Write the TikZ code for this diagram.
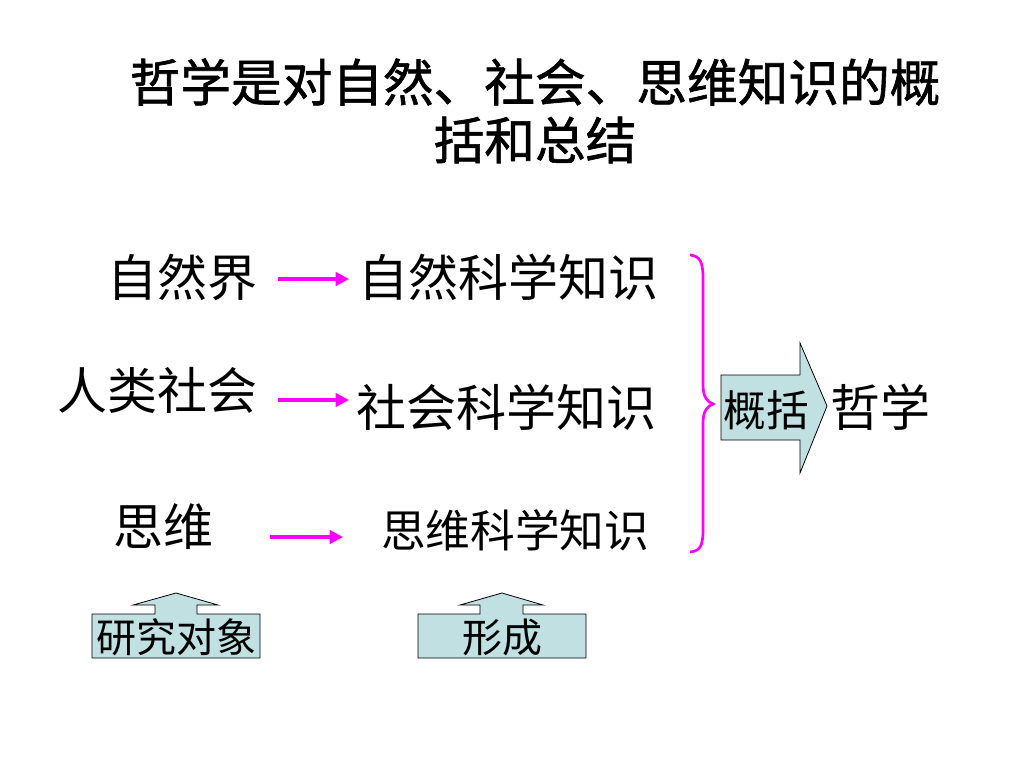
\documentclass[tikz,border=0pt]{standalone}
\usepackage{fontspec}
\setmainfont{Noto Sans CJK SC}
\newfontfamily\ttlfont{Noto Sans CJK SC}[FakeBold=1.2]
\usetikzlibrary{arrows.meta}
\definecolor{pink}{RGB}{255,0,255}
\definecolor{teal}{RGB}{192,224,226}
\tikzset{
  big/.style={inner sep=0pt, font=\fontsize{37.5}{40}\selectfont},
  ttl/.style={inner sep=0pt, font=\ttlfont\fontsize{38}{40}\selectfont},
  mid/.style={inner sep=0pt, font=\fontsize{33.5}{36}\selectfont},
  small/.style={inner sep=0pt, font=\fontsize{30}{32}\selectfont},
  link/.style={pink, line width=2.3pt, -{Triangle[length=10pt,width=10pt]}},
  blk/.style={draw=black, line width=0.6pt, fill=teal, line join=miter},
}
\begin{document}
\begin{tikzpicture}[x=0.75pt,y=-0.75pt]
\useasboundingbox (0,0) rectangle (1024,768);
\fill[white] (0,0) rectangle (1024,768);
% title
\node[ttl] (t1) at (535,82) {哲学是对自然、社会、思维知识的概};
\node[ttl] (t2) at (535,140) {括和总结};
% left column
\node[big] (n1) at (182,277) {自然界};
\node[big] (s1) at (157,390) {人类社会};
\node[big] (m1) at (163,527) {思维};
% middle column
\node[big] (n2) at (508,277) {自然科学知识};
\node[big] (s2) at (506,407) {社会科学知识};
\node[mid] (m2) at (515,530) {思维科学知识};
% arrows
\coordinate (a1s) at (278,279); \coordinate (a1e) at (349,279);
\coordinate (a2s) at (278,400); \coordinate (a2e) at (349,400);
\coordinate (a3s) at (270,537); \coordinate (a3e) at (343,537);
\draw[link] (a1s) -- (a1e);
\draw[link] (a2s) -- (a2e);
\draw[link] (a3s) -- (a3e);
% brace
\coordinate (bt) at (690,255);
\coordinate (bb) at (690,552);
\coordinate (btip) at (713,404);
\draw[pink, line width=2pt]
  (bt) .. controls (700,256) and (703,262) .. (703,278)
  -- (703,385) .. controls (703,398) and (708,402) .. (btip)
  .. controls (708,406) and (703,410) .. (703,423)
  -- (703,530) .. controls (703,546) and (700,551) .. (bb);
% block arrow
\draw[blk] (721,375) -- (800,375) -- (800,343) -- (827,406) -- (800,473) -- (800,440) -- (721,440) -- cycle;
\node[inner sep=0pt, font=\fontsize{32}{34}\selectfont] (gk) at (766,410) {概括};
\node[big] (zx) at (880,407) {哲学};
% bottom callouts
\draw[blk] (92,614) -- (155,614) -- (155,605) -- (133,605) -- (176,593) -- (218,605) -- (197,605) -- (197,614) -- (260,614) -- (260,658) -- (92,658) -- cycle;
\node[small] (yj) at (176,637) {研究对象};
\draw[blk] (418,614) -- (480,614) -- (480,605) -- (460,605) -- (502,593) -- (543,605) -- (523,605) -- (523,614) -- (586,614) -- (586,658) -- (418,658) -- cycle;
\node[small] (xc) at (502,637) {形成};
\end{tikzpicture}
\end{document}
